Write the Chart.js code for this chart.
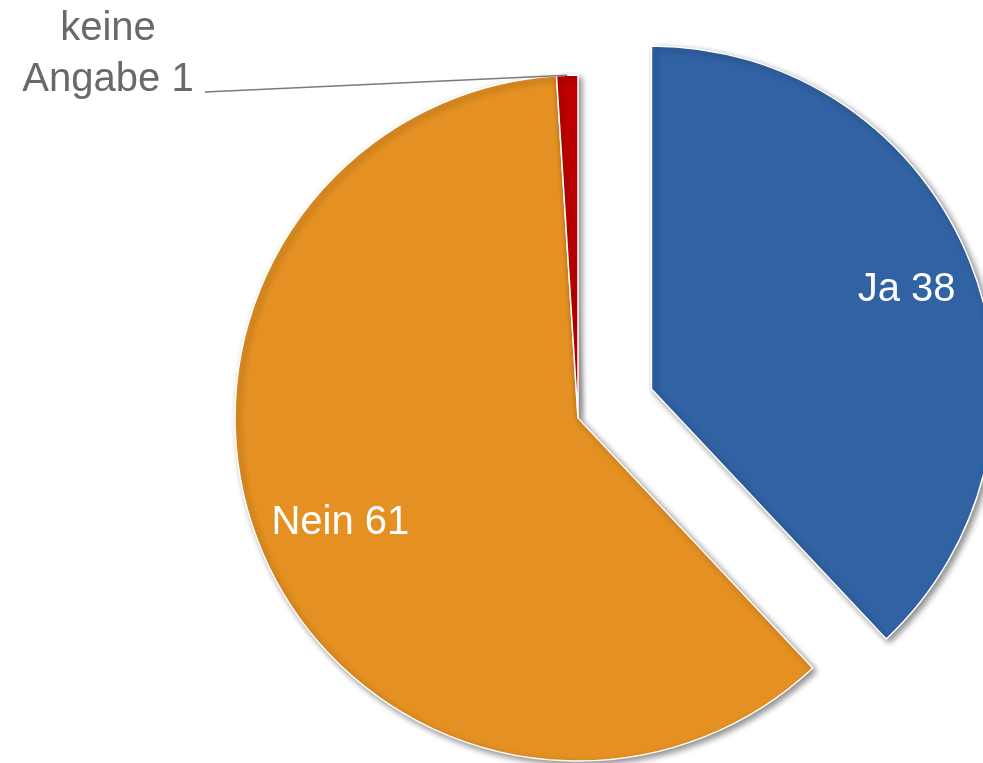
<!DOCTYPE html>
<html>
<head>
<meta charset="utf-8">
<script src="https://cdn.jsdelivr.net/npm/chart.js@4"></script>
<style>
  html, body { margin: 0; padding: 0; background: #fff; }
  #wrap { width: 983px; height: 763px; position: relative; }
</style>
</head>
<body>
<div id="wrap"><canvas id="pieChart"></canvas></div>
<script>
const categories = ['Ja', 'Nein', 'keine Angabe'];
const values = [38, 61, 1];
const sliceColors = ['#3162a3', '#e49022', '#c00000'];

const PIE_RADIUS = 343;
const labelRadius = [0.8, 0.755, null]; // null -> label outside with leader line

// chart.js makes an offset slice a bit larger and narrower, undo that
const keepRadius = {
  id: 'keepRadius',
  beforeDatasetsDraw(chart) {
    chart.getDatasetMeta(0).data.forEach(arc => {
      if (arc.$written !== arc.startAngle) {
        arc.$base = [arc.startAngle, arc.endAngle];
      }
      const off = (arc.options.offset || 0) / 4;
      const circ = arc.$base[1] - arc.$base[0];
      const radOff = off * (1 - Math.sin(Math.min(Math.PI, circ)));
      const widen = (radOff / Math.PI) / PIE_RADIUS / 2;
      arc.outerRadius = PIE_RADIUS - radOff;
      arc.startAngle = arc.$base[0] - widen;
      arc.endAngle = arc.$base[1] + widen;
      arc.$written = arc.startAngle;
    });
  }
};

const sliceShadow = {
  id: 'sliceShadow',
  beforeDatasetsDraw(chart) {
    const ctx = chart.ctx;
    ctx.save();
    ctx.shadowColor = 'rgba(0,0,0,0.45)';
    ctx.shadowBlur = 6;
    ctx.shadowOffsetX = 3;
    ctx.shadowOffsetY = 3;
  },
  afterDatasetsDraw(chart) {
    chart.ctx.restore();
  }
};

const sliceLabels = {
  id: 'sliceLabels',
  afterDatasetsDraw(chart) {
    const ctx = chart.ctx;
    const arcs = chart.getDatasetMeta(0).data;
    ctx.save();
    ctx.font = '40px "Liberation Sans", Arial, sans-serif';
    arcs.forEach((arc, i) => {
      const mid = (arc.startAngle + arc.endAngle) / 2;
      const off = (arc.options.offset || 0) / 4;
      const cx = arc.x + Math.cos(mid) * off;
      const cy = arc.y + Math.sin(mid) * off;
      if (labelRadius[i]) {
        const r = PIE_RADIUS * labelRadius[i];
        ctx.fillStyle = '#ffffff';
        ctx.textAlign = 'center';
        ctx.textBaseline = 'middle';
        ctx.fillText(categories[i] + ' ' + values[i], cx + Math.cos(mid) * r, cy + Math.sin(mid) * r + 2);
      } else {
        const ex = cx + Math.cos(mid) * PIE_RADIUS;
        const ey = cy + Math.sin(mid) * PIE_RADIUS;
        ctx.strokeStyle = '#7a7a7a';
        ctx.lineWidth = 1.5;
        ctx.beginPath();
        ctx.moveTo(205, 92);
        ctx.lineTo(ex, ey);
        ctx.stroke();
        const words = categories[i].split(' ');
        ctx.fillStyle = '#696969';
        ctx.textAlign = 'center';
        ctx.textBaseline = 'alphabetic';
        ctx.fillText(words[0], 108, 40);
        ctx.fillText(words[1] + ' ' + values[i], 108, 91);
      }
    });
    ctx.restore();
  }
};

const ctx = document.getElementById('pieChart').getContext('2d');
const pieChart = new Chart(ctx, {
  type: 'pie',
  data: {
    labels: categories,
    datasets: [{
      data: values,
      backgroundColor: sliceColors,
      borderColor: '#ffffff',
      borderWidth: 1.5,
      offset: [316, 0, 0], // drawn as offset/4 -> ~79px
      hoverOffset: 0,
      clip: false
    }]
  },
  options: {
    responsive: true,
    maintainAspectRatio: false,
    animation: false,
    events: [],
    radius: PIE_RADIUS,
    layout: { padding: { left: 173, right: 0, top: 73, bottom: 0 } },
    plugins: {
      legend: { display: false },
      tooltip: { enabled: false }
    }
  },
  plugins: [keepRadius, sliceShadow, sliceLabels]
});
</script>
</body>
</html>
